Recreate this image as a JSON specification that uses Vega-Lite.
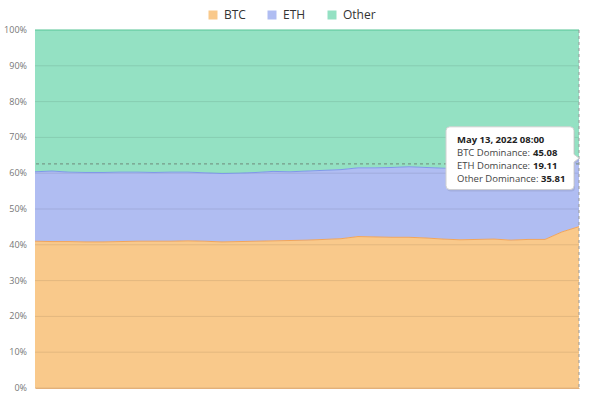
{
  "$schema": "https://vega.github.io/schema/vega-lite/v6.json",
  "width": 544,
  "height": 358,
  "autosize": "none",
  "padding": {"left": 35, "top": 30, "right": 21, "bottom": 21},
  "background": "white",
  "datasets": {
    "ticks": [
      {"v": 0, "label": "0%"}, {"v": 10, "label": "10%"}, {"v": 20, "label": "20%"},
      {"v": 30, "label": "30%"}, {"v": 40, "label": "40%"}, {"v": 50, "label": "50%"},
      {"v": 60, "label": "60%"}, {"v": 70, "label": "70%"}, {"v": 80, "label": "80%"},
      {"v": 90, "label": "90%"}, {"v": 100, "label": "100%"}
    ]
  },
  "data": {
    "values": [
      {"t": "2022-05-12T00:00", "BTC": 41.0, "ETH": 19.4, "Other": 39.6},
      {"t": "2022-05-12T01:00", "BTC": 40.9, "ETH": 19.7, "Other": 39.4},
      {"t": "2022-05-12T02:00", "BTC": 40.9, "ETH": 19.4, "Other": 39.7},
      {"t": "2022-05-12T03:00", "BTC": 40.8, "ETH": 19.4, "Other": 39.8},
      {"t": "2022-05-12T04:00", "BTC": 40.8, "ETH": 19.4, "Other": 39.8},
      {"t": "2022-05-12T05:00", "BTC": 40.9, "ETH": 19.4, "Other": 39.7},
      {"t": "2022-05-12T06:00", "BTC": 41.0, "ETH": 19.3, "Other": 39.7},
      {"t": "2022-05-12T07:00", "BTC": 41.0, "ETH": 19.2, "Other": 39.8},
      {"t": "2022-05-12T08:00", "BTC": 41.0, "ETH": 19.3, "Other": 39.7},
      {"t": "2022-05-12T09:00", "BTC": 41.1, "ETH": 19.2, "Other": 39.7},
      {"t": "2022-05-12T10:00", "BTC": 41.0, "ETH": 19.1, "Other": 39.9},
      {"t": "2022-05-12T11:00", "BTC": 40.8, "ETH": 19.1, "Other": 40.1},
      {"t": "2022-05-12T12:00", "BTC": 40.9, "ETH": 19.1, "Other": 40.0},
      {"t": "2022-05-12T13:00", "BTC": 41.0, "ETH": 19.2, "Other": 39.8},
      {"t": "2022-05-12T14:00", "BTC": 41.1, "ETH": 19.4, "Other": 39.5},
      {"t": "2022-05-12T15:00", "BTC": 41.2, "ETH": 19.2, "Other": 39.6},
      {"t": "2022-05-12T16:00", "BTC": 41.3, "ETH": 19.3, "Other": 39.4},
      {"t": "2022-05-12T17:00", "BTC": 41.5, "ETH": 19.3, "Other": 39.2},
      {"t": "2022-05-12T18:00", "BTC": 41.7, "ETH": 19.3, "Other": 39.0},
      {"t": "2022-05-12T19:00", "BTC": 42.3, "ETH": 19.2, "Other": 38.5},
      {"t": "2022-05-12T20:00", "BTC": 42.2, "ETH": 19.3, "Other": 38.5},
      {"t": "2022-05-12T21:00", "BTC": 42.1, "ETH": 19.5, "Other": 38.4},
      {"t": "2022-05-12T22:00", "BTC": 42.1, "ETH": 19.7, "Other": 38.2},
      {"t": "2022-05-12T23:00", "BTC": 41.9, "ETH": 19.7, "Other": 38.4},
      {"t": "2022-05-13T00:00", "BTC": 41.6, "ETH": 19.8, "Other": 38.6},
      {"t": "2022-05-13T01:00", "BTC": 41.4, "ETH": 19.9, "Other": 38.7},
      {"t": "2022-05-13T02:00", "BTC": 41.5, "ETH": 19.8, "Other": 38.7},
      {"t": "2022-05-13T03:00", "BTC": 41.6, "ETH": 19.8, "Other": 38.6},
      {"t": "2022-05-13T04:00", "BTC": 41.3, "ETH": 20.2, "Other": 38.5},
      {"t": "2022-05-13T05:00", "BTC": 41.5, "ETH": 20.1, "Other": 38.4},
      {"t": "2022-05-13T06:00", "BTC": 41.5, "ETH": 20.3, "Other": 38.2},
      {"t": "2022-05-13T07:00", "BTC": 43.6, "ETH": 19.4, "Other": 37.0},
      {"t": "2022-05-13T08:00", "BTC": 45.08, "ETH": 19.11, "Other": 35.81}
    ]
  },
  "layer": [
    {
      "transform": [{"fold": ["BTC", "ETH", "Other"], "as": ["coin", "share"]}],
      "mark": {"type": "area", "opacity": 1},
      "encoding": {
        "x": {
          "field": "t", "type": "temporal",
          "axis": {"title": null, "labels": false, "ticks": false, "grid": false, "domainColor": "#e3b07a", "zindex": 1}
        },
        "y": {
          "field": "share", "type": "quantitative", "stack": "zero",
          "scale": {"domain": [0, 100], "nice": false},
          "axis": null
        },
        "color": {
          "field": "coin", "type": "nominal",
          "scale": {"domain": ["BTC", "ETH", "Other"], "range": ["#f9c98b", "#b0bdf2", "#94e1c3"]},
          "legend": {
            "orient": "none", "legendX": 172, "legendY": -21, "direction": "horizontal",
            "title": null, "symbolType": "square", "symbolSize": 81, "symbolStrokeWidth": 0,
            "symbolOpacity": 1, "labelFontSize": 12, "labelFont": "Open Sans", "labelColor": "#333",
            "columnPadding": 20, "labelOffset": 5
          }
        },
        "order": {"field": "coin"}
      }
    },
    {
      "data": {"name": "ticks"},
      "mark": {"type": "rule", "color": "#000", "opacity": 0.09, "strokeWidth": 1},
      "encoding": {"y": {"field": "v", "type": "quantitative", "axis": null}}
    },
    {
      "data": {"name": "ticks"},
      "mark": {"type": "text", "align": "right", "baseline": "middle", "dx": -8, "font": "Open Sans", "fontSize": 9, "color": "#777"},
      "encoding": {
        "x": {"datum": {"year": 2022, "month": 5, "date": 12, "hours": 0}, "type": "temporal"},
        "y": {"field": "v", "type": "quantitative", "axis": null},
        "text": {"field": "label"}
      }
    },
    {
      "transform": [{"fold": ["BTC", "ETH", "Other"], "as": ["coin", "share"]}],
      "mark": {"type": "line", "strokeWidth": 1},
      "encoding": {
        "x": {"field": "t", "type": "temporal"},
        "y": {"field": "share", "type": "quantitative", "stack": "zero", "axis": null},
        "stroke": {
          "field": "coin", "type": "nominal",
          "scale": {"domain": ["BTC", "ETH", "Other"], "range": ["#f2a55a", "#7f98ea", "#5fcf9f"]},
          "legend": null
        },
        "order": {"field": "coin"}
      }
    },
    {
      "data": {"values": [{}]},
      "mark": {"type": "rule", "color": "#6f8a7c", "strokeDash": [3, 3], "strokeWidth": 1},
      "encoding": {"y": {"datum": 62.6, "type": "quantitative", "axis": null}}
    },
    {
      "data": {"values": [{}]},
      "mark": {"type": "rule", "color": "#999", "strokeDash": [3, 3], "strokeWidth": 1},
      "encoding": {"x": {"datum": {"year": 2022, "month": 5, "date": 13, "hours": 8}, "type": "temporal"}}
    },
    {
      "transform": [{"filter": {"field": "t", "equal": {"year": 2022, "month": 5, "date": 13, "hours": 8}}}],
      "encoding": {
        "x": {"field": "t", "type": "temporal"},
        "y": {"datum": 64.19, "type": "quantitative", "axis": null}
      },
      "layer": [
        {
          "mark": {
            "type": "point", "filled": true, "fill": "#000", "opacity": 0.08, "strokeWidth": 0,
            "shape": "M -0.94 -0.49 L 0.94 -0.49 Q 1 -0.49 1 -0.43 L 1 -0.06 L 1.08 0 L 1 0.06 L 1 0.43 Q 1 0.49 0.94 0.49 L -0.94 0.49 Q -1 0.49 -1 0.43 L -1 -0.43 Q -1 -0.49 -0.94 -0.49 Z",
            "size": 16384, "xOffset": -68, "yOffset": 2
          }
        },
        {
          "mark": {
            "type": "point", "filled": true, "fill": "white", "opacity": 1, "stroke": "#d0d0d0", "strokeWidth": 1,
            "shape": "M -0.94 -0.49 L 0.94 -0.49 Q 1 -0.49 1 -0.43 L 1 -0.06 L 1.08 0 L 1 0.06 L 1 0.43 Q 1 0.49 0.94 0.49 L -0.94 0.49 Q -1 0.49 -1 0.43 L -1 -0.43 Q -1 -0.49 -0.94 -0.49 Z",
            "size": 16384, "xOffset": -69
          }
        },
        {
          "mark": {"type": "text", "align": "left", "baseline": "middle", "font": "Open Sans", "fontSize": 9.5, "fontWeight": "bold", "color": "#222", "dx": -122, "dy": -18},
          "encoding": {"text": {"field": "t", "type": "temporal", "timeUnit": "yearmonthdatehoursminutes", "format": "%b %d, %Y %H:%M"}}
        },
        {"mark": {"type": "text", "align": "left", "baseline": "middle", "font": "Open Sans", "fontSize": 9.5, "color": "#444", "dx": -122, "dy": -5, "text": "BTC Dominance:"}},
        {"mark": {"type": "text", "align": "left", "baseline": "middle", "font": "Open Sans", "fontSize": 9.5, "color": "#444", "dx": -122, "dy": 8, "text": "ETH Dominance:"}},
        {"mark": {"type": "text", "align": "left", "baseline": "middle", "font": "Open Sans", "fontSize": 9.5, "color": "#444", "dx": -122, "dy": 21, "text": "Other Dominance:"}},
        {
          "mark": {"type": "text", "align": "left", "baseline": "middle", "font": "Open Sans", "fontSize": 9.5, "fontWeight": "bold", "color": "#222", "dx": -46, "dy": -5},
          "encoding": {"text": {"field": "BTC", "type": "quantitative", "format": ".2f"}}
        },
        {
          "mark": {"type": "text", "align": "left", "baseline": "middle", "font": "Open Sans", "fontSize": 9.5, "fontWeight": "bold", "color": "#222", "dx": -46, "dy": 8},
          "encoding": {"text": {"field": "ETH", "type": "quantitative", "format": ".2f"}}
        },
        {
          "mark": {"type": "text", "align": "left", "baseline": "middle", "font": "Open Sans", "fontSize": 9.5, "fontWeight": "bold", "color": "#222", "dx": -38, "dy": 21},
          "encoding": {"text": {"field": "Other", "type": "quantitative", "format": ".2f"}}
        }
      ]
    }
  ],
  "config": {
    "view": {"stroke": null},
    "font": "Open Sans"
  }
}
